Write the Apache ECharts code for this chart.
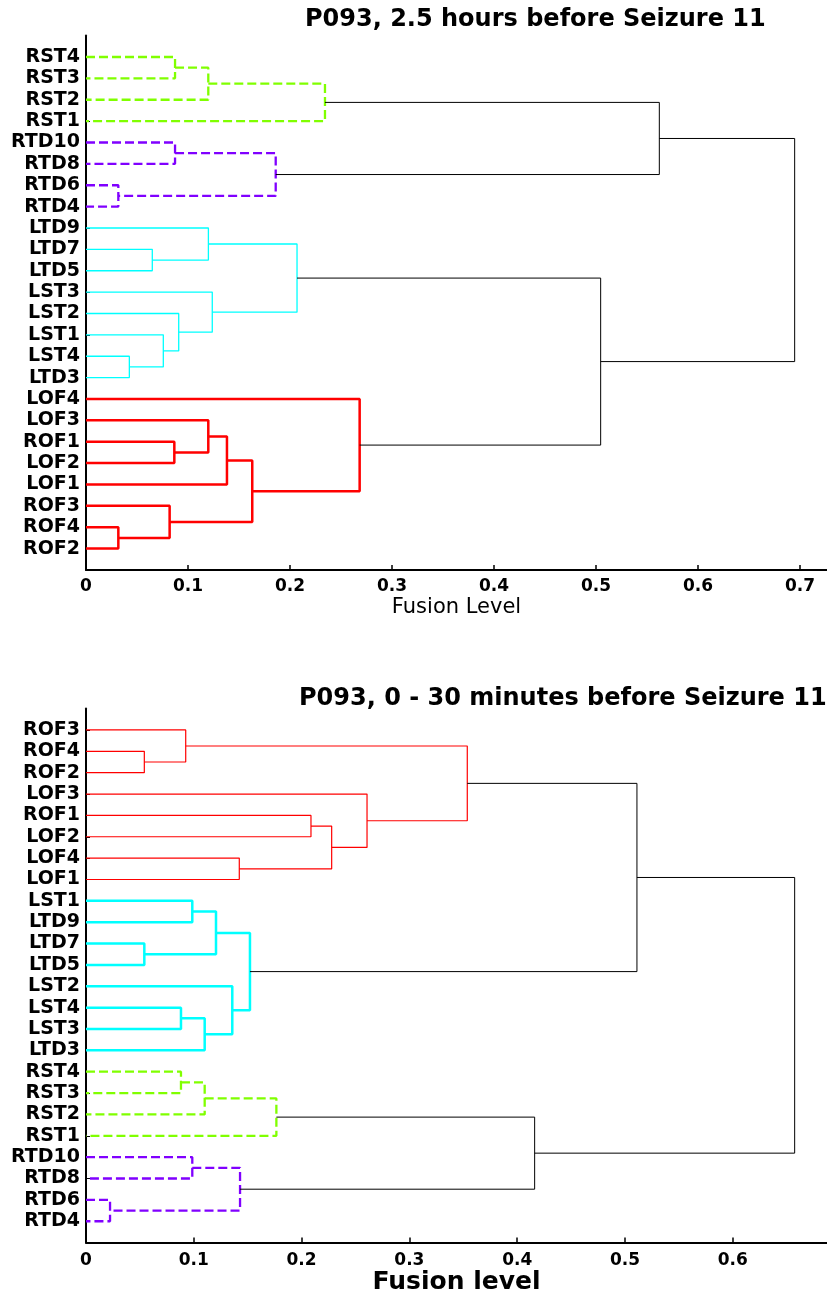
<!DOCTYPE html>
<html>
<head>
<meta charset="utf-8">
<title>P093 dendrograms</title>
<script src="https://cdn.jsdelivr.net/npm/echarts@6/dist/echarts.min.js"></script>
<style>
  html, body { margin: 0; padding: 0; background: #fff; }
  #chart { width: 827px; height: 1300px; }
</style>
</head>
<body>
<div id="chart"></div>
<script>
// leaf order, top to bottom
const topLeaves = ['RST4', 'RST3', 'RST2', 'RST1', 'RTD10', 'RTD8', 'RTD6', 'RTD4',
  'LTD9', 'LTD7', 'LTD5', 'LST3', 'LST2', 'LST1', 'LST4', 'LTD3',
  'LOF4', 'LOF3', 'ROF1', 'LOF2', 'LOF1', 'ROF3', 'ROF4', 'ROF2'];

// merges: [child, child, fusion level]; a number points to an earlier merge
const topMerges = [
  ['RST4', 'RST3', 0.0873], // 0
  [0, 'RST2', 0.1199],      // 1
  [1, 'RST1', 0.2343],      // 2
  ['RTD10', 'RTD8', 0.0873],// 3
  ['RTD6', 'RTD4', 0.0317], // 4
  [3, 4, 0.186],            // 5
  [2, 5, 0.5621],           // 6
  ['LTD7', 'LTD5', 0.065],  // 7
  ['LTD9', 7, 0.120],       // 8
  ['LST4', 'LTD3', 0.0425], // 9
  ['LST1', 9, 0.0758],      // 10
  ['LST2', 10, 0.0909],     // 11
  ['LST3', 11, 0.1238],     // 12
  [8, 12, 0.2069],          // 13
  ['ROF1', 'LOF2', 0.0866], // 14
  ['LOF3', 14, 0.1199],     // 15
  [15, 'LOF1', 0.1382],     // 16
  ['ROF4', 'ROF2', 0.0317], // 17
  ['ROF3', 17, 0.082],      // 18
  [16, 18, 0.163],          // 19
  ['LOF4', 19, 0.2683],     // 20
  [13, 20, 0.5046],         // 21
  [6, 21, 0.6948]           // 22
];
const topTicks = [0, 0.1, 0.2, 0.3, 0.4, 0.5, 0.6, 0.7];

const bottomLeaves = ['ROF3', 'ROF4', 'ROF2', 'LOF3', 'ROF1', 'LOF2', 'LOF4', 'LOF1',
  'LST1', 'LTD9', 'LTD7', 'LTD5', 'LST2', 'LST4', 'LST3', 'LTD3',
  'RST4', 'RST3', 'RST2', 'RST1', 'RTD10', 'RTD8', 'RTD6', 'RTD4'];

const bottomMerges = [
  ['ROF4', 'ROF2', 0.0541], // 0
  ['ROF3', 0, 0.0925],      // 1
  ['ROF1', 'LOF2', 0.2087], // 2
  ['LOF4', 'LOF1', 0.1422], // 3
  [2, 3, 0.2279],           // 4
  ['LOF3', 4, 0.2607],      // 5
  [1, 5, 0.3537],           // 6
  ['LST1', 'LTD9', 0.0986], // 7
  ['LTD7', 'LTD5', 0.0541], // 8
  [7, 8, 0.1206],           // 9
  ['LST4', 'LST3', 0.0881], // 10
  [10, 'LTD3', 0.1101],     // 11
  ['LST2', 11, 0.1357],     // 12
  [9, 12, 0.1521],          // 13
  [6, 13, 0.5111],          // 14
  ['RST4', 'RST3', 0.0881], // 15
  [15, 'RST2', 0.1101],     // 16
  [16, 'RST1', 0.1766],     // 17
  ['RTD10', 'RTD8', 0.0986],// 18
  ['RTD6', 'RTD4', 0.0223], // 19
  [18, 19, 0.1429],         // 20
  [17, 20, 0.4162],         // 21
  [14, 21, 0.6574]          // 22
];
const bottomTicks = [0, 0.1, 0.2, 0.3, 0.4, 0.5, 0.6];

// links above this level are drawn black
const colorCut = 0.4;

const FONT = 'DejaVu Sans';
const dash = [9, 4];
const green = '#80ff00', purple = '#8000ff', cyan = '#00ffff', red = '#ff0000';

const topLook = {
  RST: { color: green, width: 2.3, type: dash },
  RTD: { color: purple, width: 2.3, type: dash },
  LTD: { color: cyan, width: 1.3, type: 'solid' },
  LST: { color: cyan, width: 1.3, type: 'solid' },
  LOF: { color: red, width: 2.5, type: 'solid' },
  ROF: { color: red, width: 2.5, type: 'solid' },
  none: { color: '#000', width: 1, type: 'solid' }
};
const bottomLook = {
  RST: { color: green, width: 2.3, type: dash },
  RTD: { color: purple, width: 2.3, type: dash },
  LTD: { color: cyan, width: 2.5, type: 'solid' },
  LST: { color: cyan, width: 2.5, type: 'solid' },
  LOF: { color: red, width: 1.2, type: 'solid' },
  ROF: { color: red, width: 1.2, type: 'solid' },
  none: { color: '#000', width: 1, type: 'solid' }
};

function buildLinks(leaves, merges, look, idx) {
  const nodes = [];
  const node = ref => typeof ref === 'number'
    ? nodes[ref]
    : { x: 0, y: leaves.indexOf(ref) + 1, group: ref.slice(0, 3) };
  return merges.map(([a, b, h]) => {
    const na = node(a), nb = node(b);
    nodes.push({ x: h, y: (na.y + nb.y) / 2, group: na.group });
    const st = h < colorCut ? look[na.group] : look.none;
    return {
      type: 'line',
      xAxisIndex: idx,
      yAxisIndex: idx,
      data: [[na.x, na.y], [h, na.y], [h, nb.y], [nb.x, nb.y]],
      symbol: 'none',
      silent: true,
      clip: false,
      lineStyle: { color: st.color, width: st.width, type: st.type, cap: 'butt' }
    };
  });
}

function xAxis(idx, max, ticks, name, nameStyle, nameGap, margin) {
  return {
    type: 'value',
    gridIndex: idx,
    min: 0,
    max: max,
    name: name,
    nameLocation: 'middle',
    nameGap: nameGap,
    nameTextStyle: Object.assign({ color: '#000', fontFamily: FONT }, nameStyle),
    axisLine: { show: true, onZero: false, lineStyle: { color: '#000', width: 2 } },
    axisTick: { show: true, inside: true, length: 5, customValues: ticks, lineStyle: { color: '#000', width: 1.5 } },
    axisLabel: {
      customValues: ticks,
      formatter: v => String(v),
      margin: margin,
      color: '#000',
      fontFamily: FONT,
      fontWeight: 'bold',
      fontSize: 17
    },
    splitLine: { show: false }
  };
}

function yAxis(idx, leaves) {
  const pos = leaves.map((_, i) => i + 1);
  return {
    type: 'value',
    gridIndex: idx,
    min: 0,
    max: leaves.length + 1,
    inverse: true,
    axisLine: { show: true, onZero: false, lineStyle: { color: '#000', width: 2 } },
    axisTick: { show: true, inside: true, length: 4, customValues: pos, lineStyle: { color: '#000', width: 1 } },
    axisLabel: {
      customValues: pos,
      formatter: v => leaves[v - 1] || '',
      margin: 6,
      color: '#000',
      fontFamily: FONT,
      fontWeight: 'bold',
      fontSize: 19
    },
    splitLine: { show: false }
  };
}

const chart = echarts.init(document.getElementById('chart'), null, { renderer: 'canvas' });

chart.setOption({
  animation: false,
  backgroundColor: '#fff',
  title: [
    {
      text: 'P093, 2.5 hours before Seizure 11',
      left: 305, top: 8, padding: 0,
      textStyle: { fontFamily: FONT, fontWeight: 'bold', fontSize: 24, color: '#000' }
    },
    {
      text: 'P093, 0 - 30 minutes before Seizure 11',
      left: 299, top: 687, padding: 0,
      textStyle: { fontFamily: FONT, fontWeight: 'bold', fontSize: 24, color: '#000' }
    }
  ],
  grid: [
    { left: 86, top: 35.6, width: 741, height: 534.4 },
    { left: 86, top: 708.6, width: 741, height: 534 }
  ],
  xAxis: [
    xAxis(0, 0.7265, topTicks, 'Fusion Level', { fontSize: 21 }, 27, 8),
    xAxis(1, 0.6874, bottomTicks, 'Fusion level', { fontSize: 25, fontWeight: 'bold' }, 25, 9)
  ],
  yAxis: [yAxis(0, topLeaves), yAxis(1, bottomLeaves)],
  series: buildLinks(topLeaves, topMerges, topLook, 0)
    .concat(buildLinks(bottomLeaves, bottomMerges, bottomLook, 1))
});
</script>
</body>
</html>
